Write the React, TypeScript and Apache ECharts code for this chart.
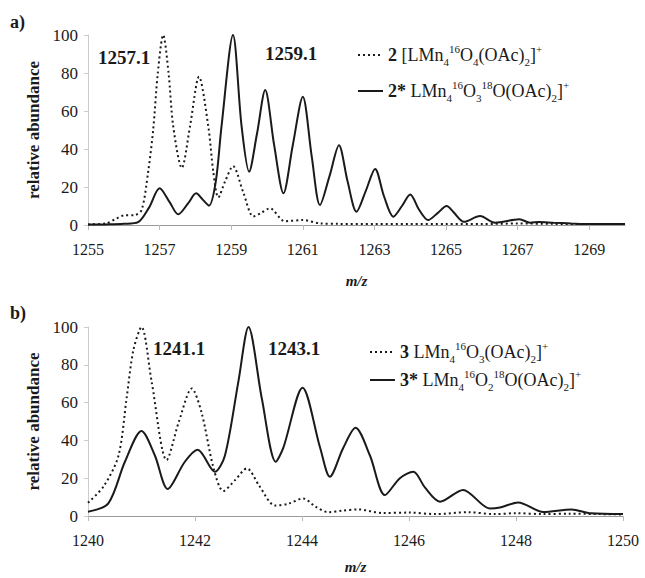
import React, { useEffect, useRef } from "react";
import * as echarts from "echarts";

// ---- data ----
const topX = { min: 1255, max: 1270, step: 2 };
const botX = { min: 1240, max: 1250, step: 2 };
const yTicks = { min: 0, max: 100, step: 20 };

const nameA = "2 [LMn4 16O4(OAc)2]+";
const nameAs = "2* LMn4 16O3 18O(OAc)2]+";
const nameB = "3 LMn4 16O3(OAc)2]+";
const nameBs = "3* LMn4 16O2 18O(OAc)2]+";

const seriesA: [number, number][] = [
  [1255, 0.3], [1255.5, 0.8], [1255.8, 3.5], [1256, 5], [1256.3, 5.2], [1256.5, 8],
  [1256.68, 28], [1256.82, 50], [1256.95, 80], [1257.1, 100], [1257.25, 80], [1257.38, 52],
  [1257.62, 30], [1257.85, 52], [1258.1, 78], [1258.36, 52], [1258.5, 28], [1258.64, 14.5],
  [1258.83, 23], [1259.05, 31], [1259.34, 17], [1259.62, 4.5], [1259.85, 6.5], [1260.08, 8.8],
  [1260.5, 2], [1261, 2.6], [1261.5, 0.8], [1262, 0.6], [1263, 0.5], [1264, 0.5],
  [1265, 0.5], [1266, 0.5], [1267, 0.8], [1268, 0.6], [1269, 0.5], [1270, 0.5],
];
const seriesAs: [number, number][] = [
  [1255, 0.2], [1255.5, 0.3], [1256, 0.6], [1256.4, 1.5], [1256.7, 9], [1257, 19.3],
  [1257.28, 12], [1257.52, 5.6], [1257.8, 11.5], [1258.02, 16.7], [1258.2, 13.5], [1258.38, 10.2],
  [1258.57, 23], [1258.73, 52], [1259.05, 100], [1259.29, 52], [1259.5, 28], [1259.72, 48],
  [1259.95, 71], [1260.2, 42], [1260.46, 16.7], [1260.72, 42], [1261, 67.5], [1261.25, 36],
  [1261.48, 10.5], [1261.75, 26], [1262.01, 42], [1262.25, 23], [1262.5, 7], [1262.76, 18],
  [1263.02, 29.5], [1263.27, 15], [1263.53, 4.4], [1263.77, 10], [1264, 16.1], [1264.25, 8],
  [1264.5, 2.6], [1264.75, 6], [1265.02, 10], [1265.2, 7], [1265.5, 1.7], [1265.95, 4.7],
  [1266.37, 1.2], [1267.05, 3], [1267.35, 1.2], [1267.6, 1.6], [1268, 1.2], [1268.5, 0.8],
  [1269, 0.5], [1270, 0.5],
];
const seriesB: [number, number][] = [
  [1240, 7], [1240.3, 16], [1240.57, 32], [1240.72, 62], [1240.85, 88], [1241, 100],
  [1241.19, 71], [1241.47, 29.6], [1241.7, 50], [1241.94, 67.5], [1242.12, 55], [1242.35, 25],
  [1242.53, 13.2], [1242.75, 19], [1242.97, 25.2], [1243.2, 16], [1243.5, 5.5], [1243.75, 6.5],
  [1244.02, 9.3], [1244.25, 5], [1244.49, 2], [1244.75, 2.8], [1245.05, 3.5], [1245.5, 1.6],
  [1246, 1.8], [1246.5, 1], [1247.1, 2], [1247.6, 1], [1248, 1.5], [1248.5, 1],
  [1249, 1.2], [1250, 0.8],
];
const seriesBs: [number, number][] = [
  [1240, 2.3], [1240.38, 6.7], [1240.69, 28.7], [1241, 45], [1241.25, 32], [1241.49, 14.3],
  [1241.81, 28.7], [1242.05, 35], [1242.37, 23.4], [1242.56, 32], [1242.81, 71], [1243, 100],
  [1243.25, 62], [1243.51, 28.7], [1243.65, 36], [1244.01, 67.9], [1244.34, 36], [1244.52, 20.8],
  [1244.77, 36], [1245, 46.7], [1245.27, 32], [1245.55, 11.1], [1245.83, 20], [1246.08, 23.4],
  [1246.3, 15], [1246.58, 7.6], [1247.01, 13.8], [1247.51, 4], [1247.7, 4.5], [1248.04, 7.2],
  [1248.51, 2.1], [1249.04, 3.5], [1249.4, 1.4], [1250, 1],
];

const peakLabelsTop = ["1257.1", "1259.1"];
const peakLabelsBot = ["1241.1", "1243.1"];

const legendRich: Record<string, string> = {
  [nameA]: "{b|2 }{n|[LMn}{sub|4}{sup|16}{n|O}{sub|4}{n|(OAc)}{sub|2}{n|]}{sup|+}",
  [nameAs]: "{b|2* }{n|LMn}{sub|4}{sup|16}{n|O}{sub|3}{sup|18}{n|O(OAc)}{sub|2}{n|]}{sup|+}",
  [nameB]: "{b|3 }{n|LMn}{sub|4}{sup|16}{n|O}{sub|3}{n|(OAc)}{sub|2}{n|]}{sup|+}",
  [nameBs]: "{b|3* }{n|LMn}{sub|4}{sup|16}{n|O}{sub|2}{sup|18}{n|O(OAc)}{sub|2}{n|]}{sup|+}",
};

const FONT = "Liberation Serif";
const INK = "#1a1a1a";

export default function App() {
  const ref = useRef<HTMLDivElement>(null);
  useEffect(() => {
    if (!ref.current) return;
    const chart = echarts.init(ref.current, undefined, { renderer: "svg" });

    const rich = {
      n: { fontSize: 18, lineHeight: 24, verticalAlign: "middle", fontFamily: FONT, color: INK },
      b: { fontSize: 18, lineHeight: 24, fontWeight: "bold", verticalAlign: "middle", fontFamily: FONT, color: INK },
      sub: { fontSize: 11, lineHeight: 14, verticalAlign: "bottom", fontFamily: FONT, color: INK },
      sup: { fontSize: 11, lineHeight: 14, verticalAlign: "top", fontFamily: FONT, color: INK },
    };

    const mkX = (cfg: { min: number; max: number; step: number }, gridIndex: number, nameGap: number) => ({
      type: "value",
      gridIndex,
      min: cfg.min,
      max: cfg.max,
      interval: cfg.step,
      name: "m/z",
      nameLocation: "middle",
      nameGap,
      nameTextStyle: { fontFamily: FONT, fontSize: 15, fontWeight: "bold", fontStyle: "italic", color: INK },
      axisLine: { show: true, lineStyle: { color: "#999", width: 1 } },
      axisTick: { show: true, length: 5, lineStyle: { color: "#bbb" } },
      splitLine: { show: false },
      axisLabel: {
        fontFamily: FONT,
        fontSize: 16,
        color: INK,
        margin: 16,
        showMaxLabel: cfg.max - cfg.min === 10,
        formatter: (v: number) => ((Math.round(v) - cfg.min) % cfg.step === 0 ? String(Math.round(v)) : ""),
      },
    });
    const mkY = (gridIndex: number) => ({
      type: "value",
      gridIndex,
      min: yTicks.min,
      max: yTicks.max,
      interval: yTicks.step,
      name: "relative abundance",
      nameLocation: "middle",
      nameGap: 45,
      nameTextStyle: { fontFamily: FONT, fontSize: 17, fontWeight: "bold", color: INK },
      axisLine: { show: true, lineStyle: { color: "#ccc" } },
      axisTick: { show: true, length: 4, lineStyle: { color: "#ccc" } },
      splitLine: { show: false },
      axisLabel: { fontFamily: FONT, fontSize: 17, color: INK, margin: 10 },
    });
    const mkSeries = (name: string, data: [number, number][], idx: number, dotted: boolean) => ({
      name,
      type: "line",
      xAxisIndex: idx,
      yAxisIndex: idx,
      data,
      symbol: "none",
      smooth: 0.3,
      lineStyle: { color: INK, width: 2, type: dotted ? [2, 3] : "solid" },
      itemStyle: { color: INK },
      z: dotted ? 2 : 3,
    });
    const mkLegend = (names: string[], left: number, top: number, gap: number, w: number) => ({
      data: names,
      orient: "vertical",
      left,
      top,
      padding: 0,
      itemWidth: w,
      itemHeight: 14,
      itemGap: gap,
      selectedMode: false,
      itemStyle: { opacity: 0 },
      formatter: (n: string) => legendRich[n] || n,
      textStyle: { rich, fontFamily: FONT, color: INK },
    });
    const txt = (t: string, x: number, y: number, size: number) => ({
      type: "text",
      x,
      y,
      style: { text: t, fontFamily: FONT, fontSize: size, fontWeight: "bold", fill: INK, verticalAlign: "middle" },
    });

    chart.setOption({
      animation: false,
      backgroundColor: "#fff",
      textStyle: { fontFamily: FONT },
      grid: [
        { left: 88, top: 35, width: 537, height: 190 },
        { left: 88, top: 327, width: 535, height: 189 },
      ],
      xAxis: [mkX(topX, 0, 48), mkX(botX, 1, 43)],
      yAxis: [mkY(0), mkY(1)],
      legend: [
        mkLegend([nameA, nameAs], 357, 43, 12, 25),
        mkLegend([nameB, nameBs], 369, 340, 4, 25),
      ],
      series: [
        mkSeries(nameA, seriesA, 0, true),
        mkSeries(nameAs, seriesAs, 0, false),
        mkSeries(nameB, seriesB, 1, true),
        mkSeries(nameBs, seriesBs, 1, false),
      ],
      graphic: [
        txt("a)", 10, 22, 18),
        txt("b)", 10, 313, 18),
        txt(peakLabelsTop[0], 98, 57, 19),
        txt(peakLabelsTop[1], 265, 53, 19),
        txt(peakLabelsBot[0], 153, 348, 19),
        txt(peakLabelsBot[1], 268, 348, 19),
      ],
    });
    return () => chart.dispose();
  }, []);
  return <div ref={ref} style={{ position: "fixed", left: 0, top: 0, width: 645, height: 578 }} />;
}
